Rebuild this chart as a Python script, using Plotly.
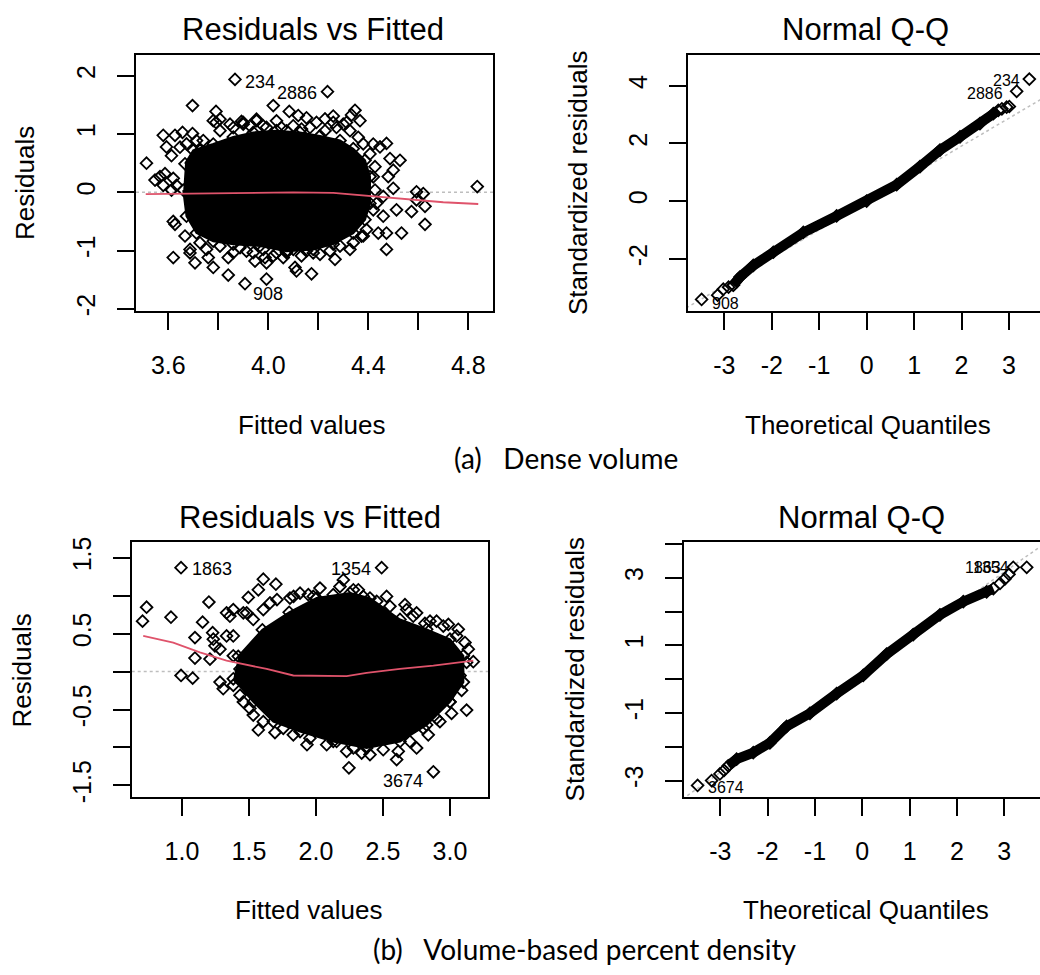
import plotly.graph_objects as go

# ---------------- (a) Dense volume : Residuals vs Fitted ----------------
a_core_x = [3.667, 3.700, 3.780, 3.860, 3.940, 4.033, 4.127, 4.207, 4.287, 4.340, 4.387, 4.407,
            4.407, 4.387, 4.340, 4.260, 4.180, 4.073, 3.967, 3.860, 3.780, 3.713, 3.673, 3.660]
a_core_y = [0.49, 0.72, 0.83, 0.95, 1.03, 1.06, 1.03, 0.97, 0.89, 0.75, 0.55, 0.27,
            -0.19, -0.47, -0.70, -0.89, -0.98, -1.01, -0.92, -0.89, -0.84, -0.70, -0.41, 0.04]
a_pts_x = [3.513, 3.867, 4.237, 3.697, 3.791, 4.020, 4.084, 4.120, 4.153, 4.347, 4.333, 4.367,
           3.580, 3.627, 3.657, 3.697, 3.791, 3.593, 3.613, 3.740, 3.900, 3.953, 4.227, 4.260,
           4.300, 4.473, 4.447, 4.527, 4.487, 4.500, 4.427, 4.480, 4.500, 4.593, 4.620, 4.593,
           4.627, 4.573, 4.627, 4.836, 4.533, 4.473, 4.513, 4.460, 4.440, 4.473, 4.433, 4.460,
           3.547, 3.567, 3.587, 3.620, 3.580, 3.613, 3.633, 3.620, 3.627, 3.620, 3.667, 3.687,
           3.707, 3.687, 3.760, 3.780, 3.840, 3.840, 3.907, 3.993, 3.913, 3.947, 3.987, 3.993,
           4.060, 4.107, 4.113, 4.173, 4.180, 4.267, 4.327, 4.380, 4.133, 4.033, 3.780, 3.807,
           3.860, 3.900, 3.980, 4.053, 4.260, 4.313, 4.420, 4.407,
           3.807, 3.847, 3.893, 3.927, 3.953, 3.993, 4.033, 4.073, 4.100, 4.133, 4.167, 4.193,
           4.227, 4.273, 4.327, 4.360, 4.380, 3.647, 3.673, 3.713, 3.727, 3.753, 3.727, 3.753,
           3.807, 3.860, 3.887, 3.940, 3.980, 4.020, 4.073, 4.100, 4.153, 4.207, 4.247, 4.287,
           4.340, 4.373, 4.393, 4.420, 4.427, 4.420]
a_pts_y = [0.50, 1.94, 1.73, 1.49, 1.39, 1.49, 1.39, 1.32, 1.28, 1.41, 1.33, 1.23,
           0.98, 0.98, 1.03, 1.01, 1.20, 0.78, 0.63, 0.89, 1.20, 1.23, 1.26, 1.20,
           1.17, 0.84, 0.78, 0.55, 0.58, 0.38, 0.44, 0.27, 0.07, 0.01, -0.02, -0.13,
           -0.24, -0.33, -0.55, 0.10, -0.70, -0.98, -0.30, -0.41, -0.70, -0.70, -0.19, -0.07,
           0.21, 0.27, 0.32, 0.24, 0.12, 0.04, 0.12, -0.50, -0.55, -1.12, -0.75, -1.04,
           -1.21, -0.98, -1.12, -1.29, -1.12, -1.42, -1.57, -1.49, -1.01, -1.18, -1.12, -1.21,
           -1.12, -1.29, -1.35, -1.40, -1.04, -1.15, -0.98, -0.75, -1.09, -1.04, 1.23, 1.06,
           1.11, 1.17, 1.14, 1.11, 1.31, 1.20, 0.83, 0.66,
           1.256, 1.171, 1.217, 1.143, 1.256, 1.115, 1.228, 1.058, 1.143, 1.087, 1.115, 1.200,
           1.058, 1.115, 1.058, 0.945, 0.832, 0.775, 0.832, 0.889, 0.719, 0.606, -0.866, -0.979,
           -0.922, -1.036, -0.951, -1.036, -0.979, -1.092, -1.036, -0.979, -1.007, -1.064, -1.007, -0.922,
           -0.866, -0.753, -0.640, 0.266, 0.040, -0.300]
a_lowess_x = [3.51, 3.70, 3.93, 4.10, 4.26, 4.39, 4.50, 4.59, 4.70, 4.84]
a_lowess_y = [-0.03, -0.02, 0.00, 0.00, -0.01, -0.06, -0.10, -0.13, -0.17, -0.20]
a_rv_labels = ["234", "2886", "908"]
a_rv_lab_x = [3.90, 4.204, 4.00]
a_rv_lab_y = [1.896, 1.71, -1.744]
a_rv_xticks = [3.6, 3.8, 4.0, 4.2, 4.4, 4.6, 4.8]
a_rv_xtext = ["3.6", "", "4.0", "", "4.4", "", "4.8"]
a_rv_yticks = [-2, -1, 0, 1, 2]
a_rv_ytext = ["-2", "-1", "0", "1", "2"]

# ---------------- (a) Dense volume : Normal Q-Q ----------------
a_qq_band_x = [-2.81, -2.67, -2.389, -1.967, -1.335, -0.633, 0.0, 0.632, 1.124, 1.545, 1.967, 2.388, 2.669, 2.774]
a_qq_band_y = [-2.914, -2.629, -2.229, -1.771, -1.086, -0.514, 0.0, 0.571, 1.20, 1.771, 2.229, 2.686, 3.029, 3.143]
a_qq_tail_x = [-3.478, -3.14, -3.021, -2.91, -2.81, 2.85, 2.95, 3.006, 3.161, 3.428]
a_qq_tail_y = [-3.406, -3.257, -3.051, -2.98, -2.914, 3.20, 3.257, 3.28, 3.806, 4.229]
a_qq_line_x = [-3.8, 3.8]
a_qq_line_y = [-3.70, 3.65]
a_qq_labels = ["234", "2886", "908"]
a_qq_lab_x = [3.274, 2.916, -3.30]
a_qq_lab_y = [4.195, 3.74, -3.54]
qq_xticks = [-3, -2, -1, 0, 1, 2, 3]
qq_xtext = ["-3", "-2", "-1", "0", "1", "2", "3"]
a_qq_yticks = [-2, 0, 2, 4]
a_qq_ytext = ["-2", "0", "2", "4"]

# ---------------- (b) Volume-based percent density : Residuals vs Fitted ----------------
b_core_x = [1.42, 1.60, 1.80, 2.005, 2.254, 2.403, 2.627, 2.826, 3.000, 3.100, 3.100, 3.000,
            2.826, 2.627, 2.378, 2.129, 1.881, 1.682, 1.532, 1.383]
b_core_y = [0.20, 0.55, 0.78, 0.968, 1.033, 0.968, 0.686, 0.556, 0.426, 0.208, -0.139, -0.40,
            -0.703, -0.921, -1.007, -0.921, -0.790, -0.66, -0.40, -0.095]
b_pts_x = [0.993, 2.490, 2.246, 2.876, 0.736, 0.706, 0.918, 1.201, 1.154, 1.097, 1.097, 0.993,
           1.080, 1.607, 1.701, 1.495, 1.570, 2.204, 2.316, 2.527, 2.664, 2.030, 1.943, 1.833,
           1.709, 1.229, 1.246, 1.209, 1.284, 1.308, 1.358, 1.458, 1.383, 1.570, 1.694, 1.458,
           1.532, 1.933, 2.154, 2.229, 2.341, 2.602, 2.614, 2.751, 2.838, 2.925, 3.012, 3.124,
           3.087, 3.049, 3.174, 3.137, 3.062, 2.988, 2.900, 2.813, 2.726, 2.677, 3.112,
           1.333, 1.383, 1.483, 1.532, 1.607, 1.657, 1.806, 1.881, 1.980, 2.129, 2.179, 2.279,
           2.353, 2.453, 2.552, 2.751, 2.851, 2.950, 3.050, 1.234, 1.284, 1.333, 1.383, 1.433,
           1.383, 1.433, 1.507, 1.607, 1.756, 1.831, 1.955, 2.080, 2.279, 2.403, 2.502, 2.701,
           2.801, 2.900, 3.000, 3.075, 3.124]
b_pts_y = [1.368, 1.368, -1.268, -1.32, 0.847, 0.664, 0.716, 0.916, 0.651, 0.447, 0.178, -0.052,
           -0.087, 1.216, 1.151, 0.977, 1.077, 1.207, 1.077, 0.99, 0.881, 1.099, 1.012, 0.99,
           0.947, 0.512, 0.339, 0.165, -0.139, -0.226, 0.729, 0.773, 0.469, -0.769, -0.803, -0.40,
           -0.573, -0.964, -0.921, -1.051, -1.073, -1.159, -1.051, -1.007, -0.834, -0.660, -0.551, -0.508,
           -0.248, -0.139, 0.130, 0.295, 0.556, 0.621, 0.664, 0.634, 0.729, 0.816, 0.382,
           0.773, 0.816, 0.773, 0.686, 0.816, 0.903, 0.968, 1.033, 0.990, 1.012, 1.120, 1.077,
           0.990, 0.925, 0.860, 0.773, 0.664, 0.599, 0.469, 0.426, 0.295, 0.469, 0.208, 0.035,
           -0.182, -0.313, -0.486, -0.660, -0.747, -0.834, -0.877, -0.964, -1.007, -1.094, -1.029, -0.921,
           -0.747, -0.617, -0.399, -0.052, 0.122]
b_lowess_x = [0.711, 0.935, 1.134, 1.333, 1.632, 1.831, 2.229, 2.378, 2.627, 2.876, 3.174]
b_lowess_y = [0.469, 0.382, 0.252, 0.143, 0.035, -0.052, -0.061, -0.017, 0.035, 0.078, 0.143]
b_rv_labels = ["1863", "1354", "3674"]
b_rv_lab_x = [1.06, 2.423, 2.813]
b_rv_lab_y = [1.347, 1.347, -1.44]
b_rv_xticks = [1.0, 1.5, 2.0, 2.5, 3.0]
b_rv_xtext = ["1.0", "1.5", "2.0", "2.5", "3.0"]
b_rv_yticks = [-1.5, -1.0, -0.5, 0.0, 0.5, 1.0, 1.5]
b_rv_ytext = ["-1.5", "", "-0.5", "", "0.5", "", "1.5"]

# ---------------- (b) Volume-based percent density : Normal Q-Q ----------------
b_qq_band_x = [-2.831, -2.655, -2.303, -1.951, -1.599, -1.106, -0.542, 0.021, 0.514, 1.077, 1.641, 2.134, 2.627, 2.77]
b_qq_band_y = [-2.563, -2.369, -2.175, -1.883, -1.398, -1.010, -0.427, 0.11, 0.738, 1.32, 1.903, 2.291, 2.583, 2.68]
b_qq_tail_x = [-3.479, -3.183, -3.007, -2.92, 2.91, 3.015, 3.10, 3.19, 3.474]
b_qq_tail_y = [-3.146, -3.0, -2.806, -2.70, 2.83, 2.97, 3.10, 3.31, 3.31]
b_qq_line_x = [-3.8, 3.8]
b_qq_line_y = [-3.55, 3.96]
b_qq_labels = ["1863", "1354", "3674"]
b_qq_lab_x = [2.97, 3.14, -2.88]
b_qq_lab_y = [3.31, 3.31, -3.20]
b_qq_yticks = [-3, -2, -1, 0, 1, 2, 3, 4]
b_qq_ytext = ["-3", "", "-1", "", "1", "", "3", ""]

NB = "\u00a0"
captions = ["(a)" + NB * 3 + "Dense volume", "(b)" + NB * 3 + "Volume-based percent density"]

# ---------------- layout helpers ----------------
W, H = 1040, 975
def fx(p):
    return p / W
def fy(p):
    return 1 - p / H

RFONT = "Liberation Sans"
RED = "#DF536B"
GRAY = "#BEBEBE"
marker_open = dict(symbol="diamond-open", size=9, color="black", line=dict(width=1.8, color="black"))

fig = go.Figure()

def add_rv(xa, ya, core_x, core_y, pts_x, pts_y, low_x, low_y):
    fig.add_trace(go.Scatter(x=core_x, y=core_y, xaxis=xa, yaxis=ya, mode="lines+markers",
                             fill="toself", fillcolor="black", line=dict(color="black", width=2),
                             marker=marker_open, hoverinfo="skip"))
    fig.add_trace(go.Scatter(x=pts_x, y=pts_y, xaxis=xa, yaxis=ya, mode="markers",
                             marker=marker_open, hoverinfo="skip"))
    fig.add_trace(go.Scatter(x=low_x, y=low_y, xaxis=xa, yaxis=ya, mode="lines",
                             line=dict(color=RED, width=1.8), hoverinfo="skip"))

def add_qq(xa, ya, band_x, band_y, tail_x, tail_y, line_x, line_y):
    fig.add_trace(go.Scatter(x=line_x, y=line_y, xaxis=xa, yaxis=ya, mode="lines",
                             line=dict(color=GRAY, width=1.5, dash="dot"), hoverinfo="skip"))
    fig.add_trace(go.Scatter(x=band_x, y=band_y, xaxis=xa, yaxis=ya, mode="lines+markers",
                             line=dict(color="black", width=10), marker=marker_open, hoverinfo="skip"))
    fig.add_trace(go.Scatter(x=tail_x, y=tail_y, xaxis=xa, yaxis=ya, mode="markers",
                             marker=marker_open, hoverinfo="skip"))

add_rv("x", "y", a_core_x, a_core_y, a_pts_x, a_pts_y, a_lowess_x, a_lowess_y)
add_qq("x2", "y2", a_qq_band_x, a_qq_band_y, a_qq_tail_x, a_qq_tail_y, a_qq_line_x, a_qq_line_y)
add_rv("x3", "y3", b_core_x, b_core_y, b_pts_x, b_pts_y, b_lowess_x, b_lowess_y)
add_qq("x4", "y4", b_qq_band_x, b_qq_band_y, b_qq_tail_x, b_qq_tail_y, b_qq_line_x, b_qq_line_y)

ax_common = dict(showgrid=False, zeroline=False, showline=True, linecolor="black", linewidth=2,
                 ticks="outside", ticklen=17, tickwidth=2, tickcolor="black",
                 tickfont=dict(family=RFONT, size=25, color="black"), fixedrange=True)

def xax(domain, rng, tv, tt, anchor):
    return dict(ax_common, domain=domain, range=rng, tickmode="array", tickvals=tv, ticktext=tt,
                anchor=anchor, mirror=True, ticklabelstandoff=14)

def yax(domain, rng, tv, tt, anchor, mirror):
    return dict(ax_common, domain=domain, range=rng, tickmode="array", tickvals=tv, ticktext=tt,
                anchor=anchor, mirror=mirror, tickangle=-90, ticklabelstandoff=12)

top_dom = [fy(309), fy(50.7)]
bot_dom = [fy(801), fy(542.7)]

fig.update_layout(
    width=W, height=H, margin=dict(l=0, r=0, t=0, b=0),
    paper_bgcolor="white", plot_bgcolor="white", showlegend=False,
    xaxis=xax([fx(136), fx(493)], [3.471, 4.899], a_rv_xticks, a_rv_xtext, "y"),
    yaxis=yax(top_dom, [-2.03, 2.357], a_rv_yticks, a_rv_ytext, "x", True),
    xaxis2=xax([fx(688), 1.0], [-3.765, 3.653], qq_xticks, qq_xtext, "y2"),
    yaxis2=yax(top_dom, [-3.79, 5.06], a_qq_yticks, a_qq_ytext, "x2", False),
    xaxis3=xax([fx(131.7), fx(488.3)], [0.625, 3.286], b_rv_xticks, b_rv_xtext, "y3"),
    yaxis3=yax(bot_dom, [-1.652, 1.712], b_rv_yticks, b_rv_ytext, "x3", True),
    xaxis4=xax([fx(684.3), 1.0], [-3.76, 3.755], qq_xticks, qq_xtext, "y4"),
    yaxis4=yax(bot_dom, [-3.486, 4.07], b_qq_yticks, b_qq_ytext, "x4", False),
)

# zero reference lines (gray dotted)
for xa, ya in [("x", "y"), ("x3", "y3")]:
    fig.add_shape(type="line", xref=xa + " domain", yref=ya, x0=0, x1=1, y0=0, y1=0,
                  line=dict(color=GRAY, width=1.5, dash="dot"), layer="below")

# point labels
def point_labels(xa, ya, labels, lx, ly, anchors, size):
    for t, x, y, anc in zip(labels, lx, ly, anchors):
        fig.add_annotation(x=x, y=y, xref=xa, yref=ya, text=t, showarrow=False, xanchor=anc,
                           yanchor="middle", font=dict(family=RFONT, size=size, color="black"))

point_labels("x", "y", a_rv_labels, a_rv_lab_x, a_rv_lab_y, ["left", "right", "center"], 18)
point_labels("x2", "y2", a_qq_labels, a_qq_lab_x, a_qq_lab_y, ["right", "right", "left"], 16)
point_labels("x3", "y3", b_rv_labels, b_rv_lab_x, b_rv_lab_y, ["left", "right", "right"], 18)
point_labels("x4", "y4", b_qq_labels, b_qq_lab_x, b_qq_lab_y, ["right", "right", "center"], 16)

# titles, axis titles and captions (paper positions)
def ptext(t, x, y, size, angle=0, family=RFONT):
    fig.add_annotation(x=fx(x), y=fy(y), xref="paper", yref="paper", text=t, showarrow=False,
                       xanchor="center", yanchor="middle", textangle=angle,
                       font=dict(family=family, size=size, color="black"))

ptext("Residuals vs Fitted", 313, 25, 31)
ptext("Normal Q-Q", 865, 25, 31)
ptext("Residuals vs Fitted", 310, 518, 31)
ptext("Normal Q-Q", 861, 518, 31)
ptext("Fitted values", 311, 425, 26)
ptext("Theoretical Quantiles", 868, 425, 26)
ptext("Fitted values", 308, 915, 26)
ptext("Theoretical Quantiles", 866, 915, 26)
ptext("Residuals", 25, 180, 26, -90)
ptext("Standardized residuals", 578, 180, 26, -90)
ptext("Residuals", 22, 673, 26, -90)
ptext("Standardized residuals", 575, 672, 26, -90)
ptext(captions[0], 566, 458, 28, 0, "Lato")
ptext(captions[1], 584, 955, 28, 0, "Lato")

fig.write_html("out.html")
